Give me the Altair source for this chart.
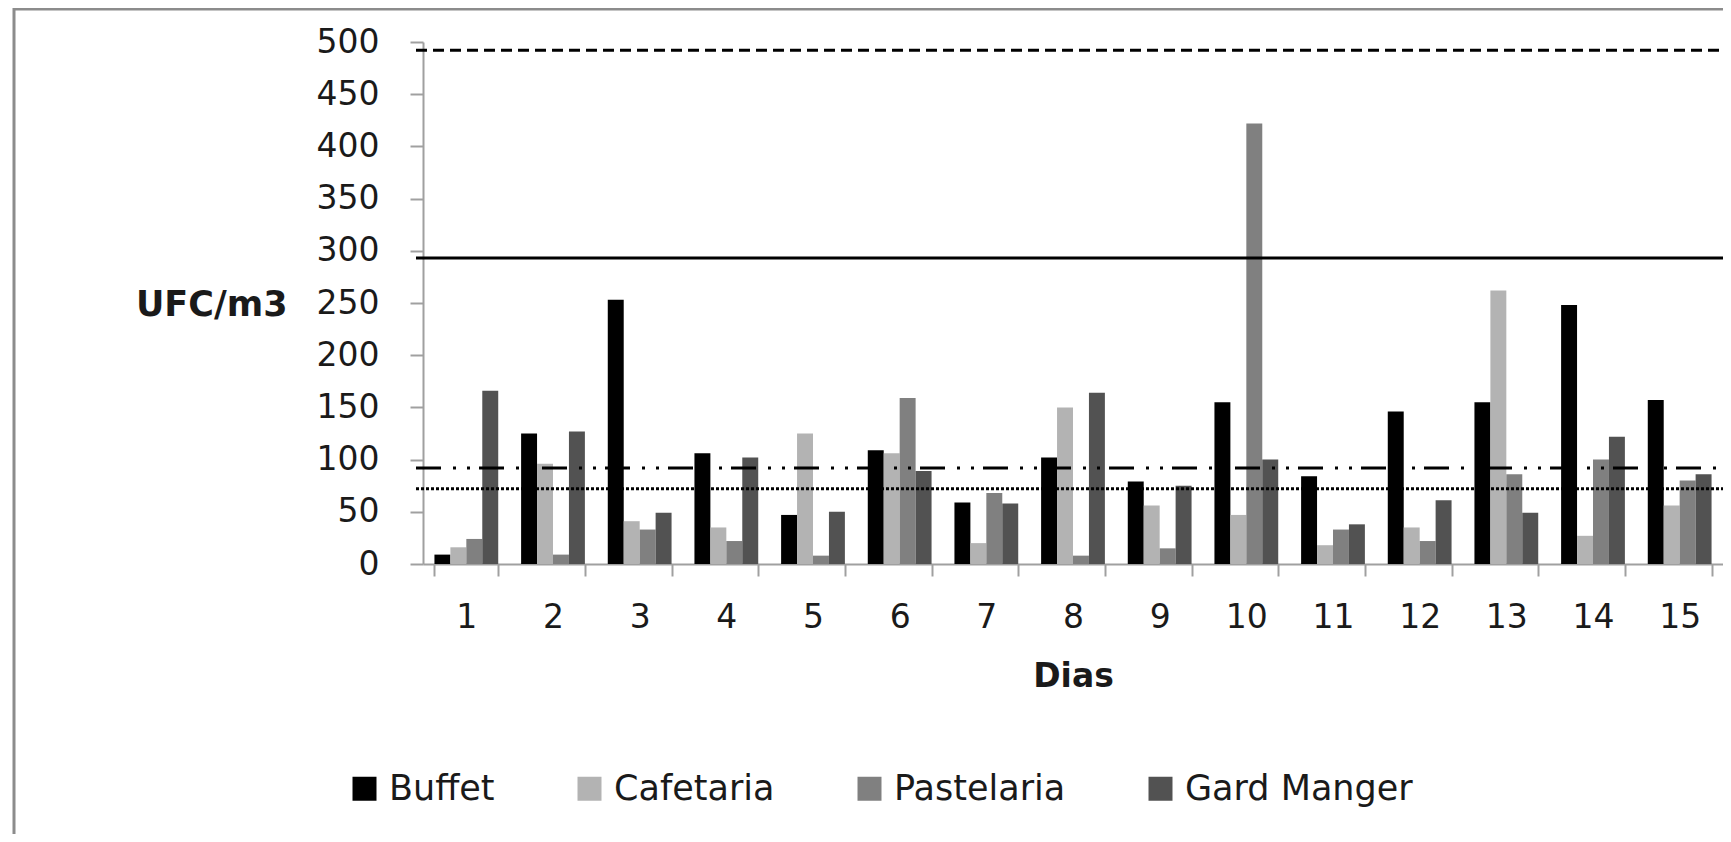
import altair as alt
import pandas as pd

# ---- data ----
dias = [str(i) for i in range(1, 16)]
setores = ["Buffet", "Cafetaria", "Pastelaria", "Gard Manger"]
buffet = [9, 125, 253, 106, 47, 109, 59, 102, 79, 155, 84, 146, 155, 248, 157]
cafetaria = [16, 96, 41, 35, 125, 106, 20, 150, 56, 47, 18, 35, 262, 27, 56]
pastelaria = [24, 9, 33, 22, 8, 159, 68, 8, 15, 422, 33, 22, 86, 100, 80]
gard_manger = [166, 127, 49, 102, 50, 89, 58, 164, 75, 100, 38, 61, 49, 122, 86]
cores = ["#000000", "#b3b3b3", "#808080", "#525252"]
ref_valores = [492, 293, 92, 72]
ref_tracos = [[11, 6], [1, 0], [25, 12, 3, 11, 3, 9], [3, 2]]

series = [buffet, cafetaria, pastelaria, gard_manger]
rows = []
for s, vals in zip(setores, series):
    for d, v in zip(dias, vals):
        rows.append({"Dia": d, "Setor": s, "UFC": v})
df = pd.DataFrame(rows)

W, H = 1300, 522
FONT = "DejaVu Sans"

frame = alt.Chart(pd.DataFrame({"k": [0]})).mark_rect(
    fill=None, stroke="#8c8c8c", strokeWidth=3
).encode(
    x=alt.value(-409), x2=alt.value(1400), y=alt.value(-33), y2=alt.value(900)
)

bars = alt.Chart(df).mark_bar().encode(
    x=alt.X("Dia:N", sort=dias,
            scale=alt.Scale(paddingInner=0.264, paddingOuter=0.132),
            axis=alt.Axis(title="Dias", labelAngle=0, labelFontSize=33, labelFont=FONT,
                          labelColor="#1a1a1a", labelPadding=25, tickSize=12,
                          tickBand="extent", domainColor="#a0a0a0", tickColor="#a0a0a0",
                          domainWidth=2, tickWidth=2,
                          titleFont=FONT, titleFontSize=33, titleFontWeight="bold",
                          titleColor="#1a1a1a", titlePadding=26)),
    xOffset=alt.XOffset("Setor:N", sort=setores, scale=alt.Scale(paddingInner=0, paddingOuter=0)),
    y=alt.Y("UFC:Q", scale=alt.Scale(domain=[0, 500], nice=False),
            axis=alt.Axis(values=list(range(0, 501, 50)), grid=False, title="UFC/m3",
                          labelFontSize=33, labelFont=FONT, labelColor="#1a1a1a",
                          labelPadding=31, tickSize=13, domainColor="#a0a0a0",
                          tickColor="#a0a0a0", domainWidth=2, tickWidth=2,
                          titleAngle=0, titleX=-136, titleY=262, titleAlign="right",
                          titleBaseline="middle", titleFont=FONT, titleFontSize=35,
                          titleFontWeight="bold", titleColor="#1a1a1a")),
    color=alt.Color("Setor:N", sort=setores,
                    scale=alt.Scale(domain=setores, range=cores),
                    legend=alt.Legend(title=None, orient="none", direction="horizontal",
                                      legendX=-76, legendY=729, padding=0,
                                      symbolType="square", symbolSize=576,
                                      symbolStrokeWidth=0, labelFont=FONT,
                                      labelFontSize=35, labelColor="#1a1a1a",
                                      labelOffset=7, columnPadding=77, labelLimit=400)),
)

rules = []
for v, dash in zip(ref_valores, ref_tracos):
    rules.append(
        alt.Chart(pd.DataFrame({"ref": [v]})).mark_rule(
            color="black", strokeWidth=3, strokeDash=dash
        ).encode(y="ref:Q", x=alt.value(-7), x2=alt.value(W + 10))
    )

chart = alt.layer(frame, bars, *rules).properties(
    width=W, height=H,
    autosize=alt.AutoSizeParams(type="none"),
    padding={"left": 415, "top": 34, "right": 0, "bottom": 270},
).configure_view(stroke=None)

chart.save("out.html", embed_options={"renderer": "svg", "actions": False})
